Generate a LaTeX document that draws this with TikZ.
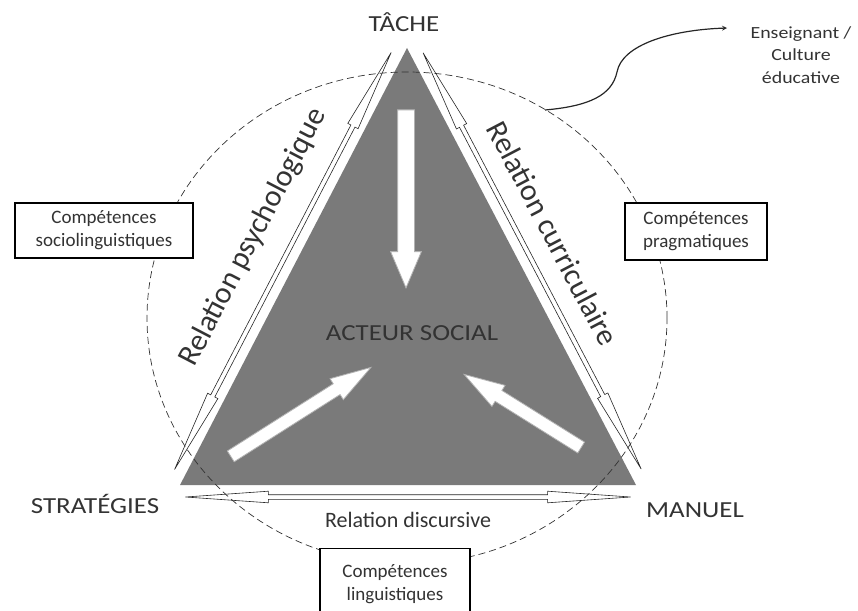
\documentclass[tikz,border=0pt]{standalone}
\usepackage{fontspec}
\setmainfont{Carlito}
\usepackage{tikz}
\usetikzlibrary{shapes.arrows}
\tikzset{every node/.append style={text=black!80}}
\tikzset{
  vertex/.style={font=\fontsize{23}{27}\selectfont, xscale=1.17, anchor=base},
  relation/.style={font=\fontsize{30.5}{34}\selectfont},
  compbox/.style={draw=black, line width=1.3pt, fill=white, align=center, inner sep=0pt, font=\fontsize{19}{23}\selectfont},
  relarrow/.style={double arrow, draw=black!85, fill=white, line width=0.6pt, inner xsep=0pt, inner ysep=2pt,
    minimum width=0pt, double arrow head extend=3.5pt, double arrow tip angle=8},
  pointer/.style={single arrow, draw=black!30, fill=white, line width=0.8pt, inner xsep=0pt, minimum width=0pt},
}

\begin{document}
\begin{tikzpicture}[x=1pt, y=-1pt, >=stealth]
    \useasboundingbox (0,0) rectangle (858,610);
    \coordinate (T) at (407,48);
    \coordinate (S) at (180,485);
    \coordinate (M) at (636,485);
    \fill[black!52] (T) -- (S) -- (M) -- cycle;

    \path (S) -- (T) node[relarrow, sloped, midway, yshift=12pt, minimum height=470pt] (psy) {};
    \path (T) -- (M) node[relarrow, sloped, midway, yshift=12pt, minimum height=470pt] (cur) {};
    \path (S) -- (M) node[relarrow, sloped, midway, yshift=-12pt, minimum height=445pt] (dis) {};
    \path (S) -- (T) node[relation, sloped, pos=0.515, yshift=49pt] {Relation psychologique};
    \path (T) -- (M) node[relation, sloped, pos=0.47, yshift=43pt] {Relation curriculaire};
    \path (S) -- (M) node[midway, yshift=-35pt, font=\fontsize{22}{26}\selectfont] {Relation discursive};

    \node[pointer, minimum height=178pt, inner ysep=8pt, single arrow head extend=7pt, single arrow tip angle=46, rotate=-90] (pdown) at (406,189) {};
    \node[pointer, minimum height=166pt, inner ysep=6pt, single arrow head extend=6pt, single arrow tip angle=34, rotate=32.4] (pleft) at (292,417.5) {};
    \node[pointer, minimum height=138pt, inner ysep=6pt, single arrow head extend=6pt, single arrow tip angle=34, rotate=148] (pright) at (531.5,416.5) {};

    \draw[black!80, line width=0.7pt, dash pattern=on 7pt off 4pt] (407,318) ellipse [x radius=260pt, y radius=246pt];

    \node[vertex] (tache) at (404,32) {TÂCHE};
    \node[vertex] (strat) at (95,513) {STRATÉGIES};
    \node[vertex] (manuel) at (695,517) {MANUEL};
    \node[vertex] (acteur) at (412,340) {ACTEUR SOCIAL};

    \node[compbox, minimum width=178pt, minimum height=55pt] (socio) at (104,230.5) {Compétences\\sociolinguistiques};
    \node[compbox, minimum width=142pt, minimum height=57pt] (prag) at (696,231.5) {Compétences\\pragmatiques};
    \node[compbox, minimum width=150pt, minimum height=70pt, anchor=north] (ling) at (395,548) {Compétences\\linguistiques};

    \node[align=center, font=\fontsize{17}{22.5}\selectfont, xscale=1.17] (ens) at (801,55) {Enseignant /\\Culture\\éducative};
    \coordinate (cstart) at (545,110);
    \coordinate (ctip) at (727,28);
    \draw[->, line width=1.2pt, black!85] (cstart) .. controls (590,106) and (612,95) .. (617,72) .. controls (622,45) and (670,30) .. (ctip);
\end{tikzpicture}
\end{document}
